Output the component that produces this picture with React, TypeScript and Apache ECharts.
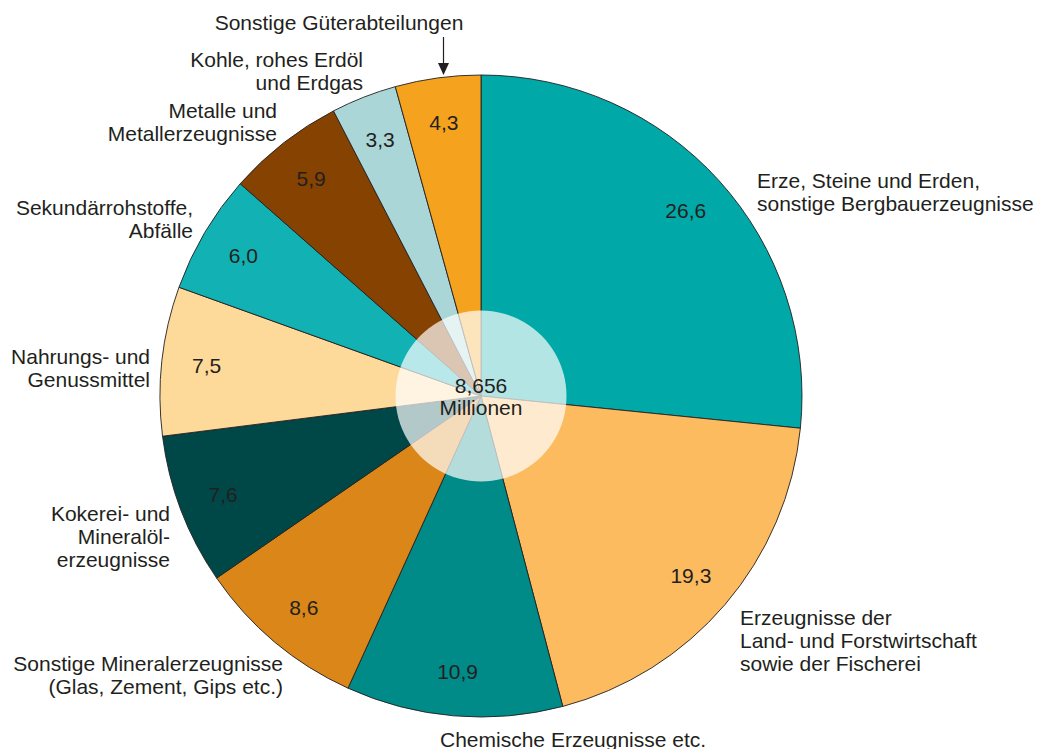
import React, { useEffect, useRef } from "react";
import * as echarts from "echarts";

const categories = [
  "Erze, Steine und Erden,\nsonstige Bergbauerzeugnisse",
  "Erzeugnisse der\nLand- und Forstwirtschaft\nsowie der Fischerei",
  "Chemische Erzeugnisse etc.",
  "Sonstige Mineralerzeugnisse\n(Glas, Zement, Gips etc.)",
  "Kokerei- und\nMineralöl-\nerzeugnisse",
  "Nahrungs- und\nGenussmittel",
  "Sekundärrohstoffe,\nAbfälle",
  "Metalle und\nMetallerzeugnisse",
  "Kohle, rohes Erdöl\nund Erdgas",
  "Sonstige Güterabteilungen",
];
const values = [26.6, 19.3, 10.9, 8.6, 7.6, 7.5, 6.0, 5.9, 3.3, 4.3];
const colors = [
  "#00a8a8",
  "#fbbb5e",
  "#008a88",
  "#db8618",
  "#004848",
  "#fdd99a",
  "#12b2b4",
  "#854200",
  "#abd6d8",
  "#f5a31e",
];
const centerText = ["8,656", "Millionen"];

// label placement (x, y of anchor, alignment)
const labelPos: [number, number, "left" | "right" | "center"][] = [
  [757, 192, "left"],
  [740, 640, "left"],
  [440, 739, "left"],
  [283, 675, "right"],
  [170, 536, "right"],
  [150, 368, "right"],
  [193, 219, "right"],
  [277, 122, "right"],
  [363, 71, "right"],
  [339, 22, "center"],
];

const FONT = "'Liberation Sans', Arial, Helvetica, sans-serif";
const TXT = "#231f20";
const CX = 481;
const CY = 396;
const R = 321;

export default function App() {
  const ref = useRef<HTMLDivElement>(null);
  useEffect(() => {
    document.body.style.margin = "0";
    const chart = echarts.init(ref.current!, undefined, { renderer: "svg" });
    const data = categories.map((name, i) => ({
      name,
      value: values[i],
      itemStyle: { color: colors[i] },
    }));
    chart.setOption({
      animation: false,
      backgroundColor: "#ffffff",
      textStyle: { fontFamily: FONT },
      series: [
        {
          type: "pie",
          center: [CX, CY],
          radius: [0, R],
          startAngle: 90,
          clockwise: true,
          silent: true,
          avoidLabelOverlap: false,
          data,
          itemStyle: { borderColor: "#231f20", borderWidth: 0.9 },
          label: {
            show: true,
            position: "outside",
            formatter: "{b}",
            fontFamily: FONT,
            fontSize: 21,
            lineHeight: 23,
            color: TXT,
            overflow: "none",
            width: 400,
          },
          labelLine: { show: false },
          labelLayout: (p: any) => {
            const lp = labelPos[p.dataIndex];
            return {
              x: lp[0],
              y: lp[1],
              align: lp[2],
              verticalAlign: "middle",
              hideOverlap: false,
            };
          },
          z: 2,
        },
        {
          type: "pie",
          center: [CX, CY],
          radius: [225, R],
          startAngle: 90,
          clockwise: true,
          silent: true,
          data: values.map((v, i) => ({ name: "v" + i, value: v })),
          itemStyle: { color: "rgba(0,0,0,0)", borderWidth: 0 },
          label: {
            show: true,
            position: "inside",
            formatter: (p: any) => p.value.toFixed(1).replace(".", ","),
            fontFamily: FONT,
            fontSize: 21,
            color: TXT,
          },
          labelLine: { show: false },
          z: 3,
        },
        {
          type: "pie",
          center: [CX, CY],
          radius: [0, 85.5],
          silent: true,
          data: [{ name: "total", value: 1 }],
          itemStyle: { color: "rgba(255,255,255,0.7)", borderWidth: 0 },
          label: {
            show: true,
            position: "center",
            formatter: centerText.join("\n"),
            fontFamily: FONT,
            fontSize: 21,
            lineHeight: 22,
            color: TXT,
          },
          labelLine: { show: false },
          z: 4,
        },
      ],
      graphic: [
        {
          type: "line",
          shape: { x1: 443.5, y1: 37, x2: 443.5, y2: 66 },
          style: { stroke: TXT, lineWidth: 1.2 },
        },
        {
          type: "polygon",
          shape: {
            points: [
              [438, 63],
              [449, 63],
              [443.5, 75],
            ],
          },
          style: { fill: TXT },
        },
      ],
    });
    return () => chart.dispose();
  }, []);
  return <div ref={ref} style={{ width: 1043, height: 749 }} />;
}
